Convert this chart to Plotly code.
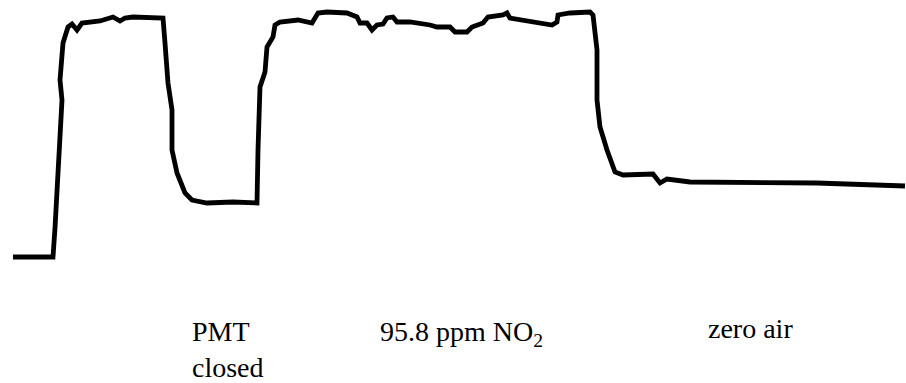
import plotly.graph_objects as go

# Time (arbitrary units) and detector signal (arbitrary units, baseline = 0)
time = [13, 53, 55, 58, 60, 62, 60, 63, 68, 72, 77, 82, 100, 113, 120, 125, 133, 163,
        165, 168, 172, 172, 177, 185, 192, 207, 233, 257,
        258, 260, 265, 267, 273, 275, 280, 298, 312, 318, 327, 347, 357, 360, 367, 372,
        377, 383, 387, 393, 397, 410, 430, 437, 450, 455, 467, 472, 483, 488, 503, 507,
        510, 523, 543, 552, 557, 558, 570, 590, 593, 597, 597, 600, 607, 615, 623, 653,
        660, 667, 690, 750, 817, 905]
signal = [1, 1, 30, 80, 108, 158, 178, 215, 231, 234, 228, 235, 237, 241, 237, 240, 241, 240,
          215, 175, 148, 108, 85, 65, 58, 55, 56, 55,
          108, 171, 186, 211, 221, 233, 236, 238, 235, 245, 246, 245, 241, 235, 235, 228,
          233, 234, 240, 241, 236, 236, 233, 231, 231, 226, 226, 231, 235, 241, 243, 245,
          240, 238, 235, 233, 236, 243, 245, 246, 243, 208, 158, 131, 108, 86, 83, 84,
          75, 79, 76, 76, 75, 72]

labels = ["PMT<br>closed", "95.8 ppm NO<sub>2</sub>", "zero air"]
label_x = [190, 378, 706]
label_y = [-56, -56, -53]

fig = go.Figure()
fig.add_trace(go.Scatter(x=time, y=signal, mode="lines",
                         line=dict(color="black", width=4.8),
                         hoverinfo="skip", showlegend=False))

for t, lx, ly in zip(labels, label_x, label_y):
    fig.add_annotation(x=lx, y=ly, text=t, showarrow=False, xanchor="left", yanchor="top",
                       align="left",
                       font=dict(family="Liberation Serif", size=28, color="black"))

fig.update_layout(
    width=906, height=383, margin=dict(l=0, r=0, t=0, b=0),
    paper_bgcolor="white", plot_bgcolor="white",
    xaxis=dict(range=[0, 906], visible=False),
    yaxis=dict(range=[-125, 258], visible=False),
)
fig.write_html("out.html")
